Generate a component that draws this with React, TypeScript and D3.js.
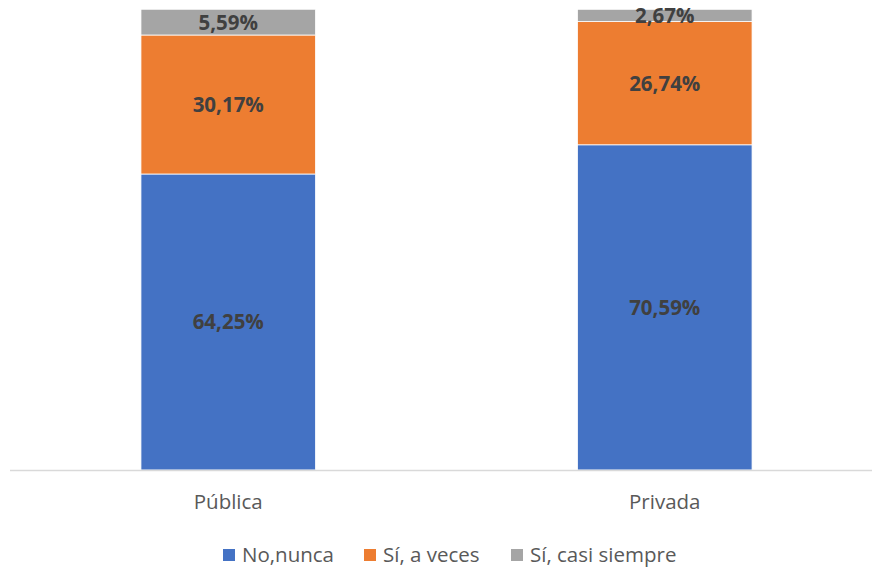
import * as React from 'react';
import * as d3 from 'd3';

const categories = ['Pública', 'Privada'];
const seriesNames = ['No,nunca', 'Sí, a veces', 'Sí, casi siempre'];
const noNunca = [64.25, 70.59];
const siAVeces = [30.17, 26.74];
const siCasiSiempre = [5.59, 2.67];

const COLORS = ['#4472C4', '#ED7D31', '#A5A5A5'];
const FONT = '"Open Sans", "Noto Sans", sans-serif';

const W = 872;
const H = 569;

export default function App() {
  const rows = categories.map((c, i) => ({
    category: c,
    s0: noNunca[i],
    s1: siAVeces[i],
    s2: siCasiSiempre[i],
  }));

  const stack = d3.stack<any>().keys(['s0', 's1', 's2']);
  const layers = stack(rows);

  const x = d3.scaleBand<string>().domain(categories).range([10, 883]).paddingInner(0.6).paddingOuter(0.3);
  const y = d3.scaleLinear().domain([0, 100]).range([470, 9.3]);

  const fmt = (v: number) => v.toFixed(2).replace('.', ',') + '%';

  const legendItems = [
    { name: seriesNames[0], x: 223 },
    { name: seriesNames[1], x: 364 },
    { name: seriesNames[2], x: 511 },
  ];

  return (
    <svg width={W} height={H} style={{ position: 'absolute', left: 0, top: 0, background: '#fff' }}>
      {layers.map((layer, li) => (
        <g key={li}>
          {layer.map((d, i) => (
            <rect
              key={i}
              x={x(categories[i])}
              y={y(d[1])}
              width={x.bandwidth()}
              height={y(d[0]) - y(d[1])}
              fill={COLORS[li]}
              stroke="#fff"
              strokeWidth={0.8}
            />
          ))}
        </g>
      ))}
      {layers.map((layer, li) =>
        layer.map((d, i) => (
          <text
            key={`${li}-${i}`}
            x={(x(categories[i]) as number) + x.bandwidth() / 2}
            y={(y(d[0]) + y(d[1])) / 2}
            dy="0.36em"
            textAnchor="middle"
            fontFamily={FONT}
            fontWeight={700}
            fontSize={20.5}
            fill="#404040"
          >
            {fmt(d[1] - d[0])}
          </text>
        ))
      )}
      <line x1={10} x2={W} y1={470.5} y2={470.5} stroke="#D9D9D9" strokeWidth={1.5} />
      {categories.map((c) => (
        <text
          key={c}
          x={(x(c) as number) + x.bandwidth() / 2}
          y={502}
          dy="0.36em"
          textAnchor="middle"
          fontFamily={FONT}
          fontSize={20.5}
          fill="#595959"
        >
          {c}
        </text>
      ))}
      {legendItems.map((it, i) => (
        <g key={it.name}>
          <rect x={it.x} y={549} width={12} height={12} fill={COLORS[i]} />
          <text x={it.x + 19} y={555} dy="0.36em" fontFamily={FONT} fontSize={20.5} fill="#595959">
            {it.name}
          </text>
        </g>
      ))}
    </svg>
  );
}
